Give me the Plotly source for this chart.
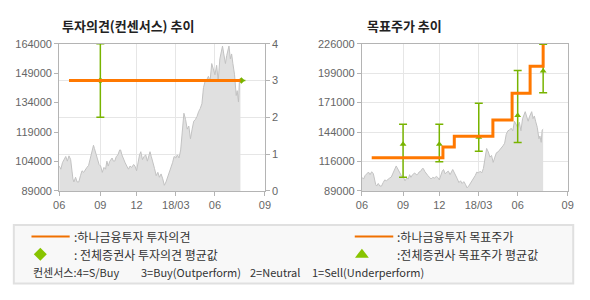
import numpy as np
import plotly.graph_objects as go

# ---------------- data ----------------
# x axis = position on the trading-day timeline of the chart (2017/06 .. 2018/09)
TICK_POS = [0, 42, 79, 119, 159, 210]
TICK_TEXT = ["06", "09", "12", "18/03", "06", "09"]

PRICE_T = [0, 1.7, 3.3, 5, 6.7, 8.3, 10, 11.7, 12.7, 14, 15, 16.7, 18.3, 20, 21.7, 23.3, 25, 26.7,
           28.3, 30, 31.7, 33.3, 35, 36, 37.3, 39.3, 40.7, 42.3, 44, 45.7, 47.3, 48.7, 50, 51.7,
           52.7, 54, 55.3, 56.7, 58.3, 60, 61.7, 62.7, 64, 65.7, 67.3, 69, 70.7, 72.3, 74, 76,
           77.3, 79, 80.7, 82, 83.3, 85, 86.7, 88.3, 90, 91.7, 92.7, 94, 95.7, 97.3, 99, 100.7,
           102.3, 104, 105.7, 107.3, 109, 110.7, 112.3, 114, 115.7, 117.3, 119, 120.7, 122.3, 124,
           125.7, 127.3, 129, 130.7, 132.3, 134, 135.7, 137.3, 139, 140.7, 142.3, 144, 145.7, 147.3,
           149, 150.7, 152.3, 154, 155.7, 157.3, 159, 160.7, 162.3, 164, 165.7, 166.7, 168, 169.7,
           171, 172.3, 173.3, 174.7, 176, 177.3, 179, 180.7, 181.7, 183, 184, 185]
PRICE = [101700, 100100, 103400, 105000, 106600, 104200, 106900, 105000, 100100, 95200, 93600,
         96000, 93600, 93600, 96800, 99300, 98500, 100100, 101000, 102000, 105800, 109000, 112300,
         110600, 108300, 104200, 102500, 101700, 98500, 101000, 100100, 104200, 101700, 104200,
         105000, 105800, 104200, 104200, 106600, 107400, 109900, 109900, 107400, 105000, 103400,
         101700, 100100, 101700, 101000, 102500, 101700, 99300, 104200, 107400, 109000, 105000,
         106600, 107400, 104200, 108300, 109000, 106600, 102500, 100500, 96800, 98500, 96000,
         97700, 95200, 91900, 93600, 96000, 98500, 100900, 103400, 106600, 105800, 107400, 105800,
         109900, 118800, 128600, 125400, 120500, 122100, 115600, 120500, 124500, 125400, 127000,
         129400, 131000, 133500, 141700, 145000, 145700, 147400, 145000, 153900, 151400, 148200,
         153000, 145000, 156300, 161200, 162800, 158800, 153900, 158000, 162000, 162800, 156300,
         158800, 153900, 148200, 137600, 140100, 134300, 145700, 146500]

# investment opinion (Hana) and consensus
OPINION_T = [10, 185]
OPINION = [3, 3]
CONS_OP_T = [42, 186]
CONS_OP = [3, 3]
CONS_OP_HI = [4, 3]
CONS_OP_LO = [2, 3]

# target price (Hana) and consensus
TARGET_T = [10, 82.7, 94.3, 133.7, 153.3, 171.7, 185]
TARGET = [120000, 130000, 140000, 155000, 180000, 205000, 225000]
CONS_TP_T = [42, 79, 119.3, 159, 185]
CONS_TP = [132500, 132500, 139000, 159300, 200700]
CONS_TP_HI = [151000, 151000, 170600, 201000, 225400]
CONS_TP_LO = [101800, 116100, 125900, 134000, 180400]

OP_PRICE_TICKS = [89000, 104000, 119000, 134000, 149000, 164000]
OP_SCORE_TICKS = [0, 1, 2, 3, 4]
TP_TICK_TEXT = ["89000", "116000", "144000", "171000", "199000", "226000"]

TITLE_LEFT = "투자의견(컨센서스) 추이"
TITLE_RIGHT = "목표주가 추이"

# ---------------- style ----------------
W, H = 590, 300
ORANGE = "#ff7800"
GREEN = "#78b400"
GREEN_LEG = "#88c400"
AXIS = "#b4b4b4"
GRID = "#e6e6e6"
TICKF = dict(family="Liberation Sans, Arial, sans-serif", size=11, color="#666666")
KFONT = "Noto Sans CJK KR, sans-serif"


def dx(px):
    return px / W


def dy(py):
    return 1 - py / H


PLOT_TOP, PLOT_BOT = 39.3, 192.7
L_X0, L_X1 = 54.3, 264.3
R_X0, R_X1 = 363.3, 573.3
ydom = [dy(PLOT_BOT), dy(PLOT_TOP)]

fig = go.Figure()

# ---- left chart ----
fig.add_trace(go.Scatter(x=PRICE_T, y=PRICE, xaxis="x", yaxis="y", mode="lines",
                         line=dict(color="#c2c2c2", width=1), fill="tozeroy",
                         fillcolor="#e0e0e0", hoverinfo="skip"))
fig.add_trace(go.Scatter(x=CONS_OP_T, y=CONS_OP, xaxis="x", yaxis="y2", mode="markers",
                         marker=dict(symbol="diamond", size=5, color=GREEN),
                         error_y=dict(type="data", symmetric=False,
                                      array=[h - c for h, c in zip(CONS_OP_HI, CONS_OP)],
                                      arrayminus=[c - l for l, c in zip(CONS_OP_LO, CONS_OP)],
                                      color=GREEN, thickness=1.5, width=4)))
fig.add_trace(go.Scatter(x=OPINION_T, y=OPINION, xaxis="x", yaxis="y2", mode="lines",
                         line=dict(color=ORANGE, width=3)))

# ---- right chart ----
fig.add_trace(go.Scatter(x=PRICE_T, y=PRICE, xaxis="x3", yaxis="y3", mode="lines",
                         line=dict(color="#c2c2c2", width=1), fill="tozeroy",
                         fillcolor="#e0e0e0", hoverinfo="skip"))
fig.add_trace(go.Scatter(x=CONS_TP_T, y=CONS_TP, xaxis="x3", yaxis="y3", mode="markers",
                         marker=dict(symbol="triangle-up", size=6, color=GREEN),
                         error_y=dict(type="data", symmetric=False,
                                      array=[h - c for h, c in zip(CONS_TP_HI, CONS_TP)],
                                      arrayminus=[c - l for l, c in zip(CONS_TP_LO, CONS_TP)],
                                      color=GREEN, thickness=1.5, width=4)))
fig.add_trace(go.Scatter(x=TARGET_T, y=TARGET, xaxis="x3", yaxis="y3", mode="lines",
                         line=dict(color=ORANGE, width=3, shape="hv")))

# ---- legend markers (overlay pixel axis) ----
fig.add_trace(go.Scatter(x=[35], y=[258.5], xaxis="x4", yaxis="y4", mode="markers",
                         marker=dict(symbol="diamond", size=10, color=GREEN_LEG)))
fig.add_trace(go.Scatter(x=[363.3], y=[259], xaxis="x4", yaxis="y4", mode="markers",
                         marker=dict(symbol="triangle-up", size=12, color=GREEN_LEG)))

xcommon = dict(range=[0, 210], tickmode="array", tickvals=TICK_POS, ticktext=TICK_TEXT,
               showgrid=True, gridcolor=GRID, gridwidth=1, zeroline=False,
               showline=True, linecolor=AXIS, linewidth=1, mirror=True,
               ticks="outside", ticklen=4, tickcolor=AXIS, tickfont=TICKF, fixedrange=True)

fig.update_layout(
    width=W, height=H, margin=dict(l=0, r=0, t=0, b=0), autosize=False,
    paper_bgcolor="white", plot_bgcolor="rgba(0,0,0,0)", showlegend=False,
    xaxis=dict(domain=[dx(L_X0), dx(L_X1)], anchor="y", **xcommon),
    yaxis=dict(domain=ydom, anchor="x", range=[89000, 164000], tickmode="array",
               tickvals=OP_PRICE_TICKS, tickformat="d", showgrid=False, zeroline=False,
               showline=True, linecolor=AXIS, linewidth=1,
               ticks="outside", ticklen=4, tickcolor=AXIS, tickfont=TICKF),
    yaxis2=dict(overlaying="y", side="right", anchor="x", range=[0, 4], tickmode="array",
                tickvals=OP_SCORE_TICKS, showgrid=True, gridcolor=GRID, zeroline=False,
                showline=True, linecolor=AXIS, linewidth=1,
                ticks="outside", ticklen=4, tickcolor=AXIS, tickfont=TICKF),
    xaxis3=dict(domain=[dx(R_X0), dx(R_X1)], anchor="y3", **xcommon),
    yaxis3=dict(domain=ydom, anchor="x3", range=[89000, 226000], tickmode="array",
                tickvals=list(np.linspace(89000, 226000, 6)), ticktext=TP_TICK_TEXT,
                showgrid=True, gridcolor=GRID, zeroline=False,
                showline=True, linecolor=AXIS, linewidth=1, mirror=True,
                ticks="outside", ticklen=4, tickcolor=AXIS, tickfont=TICKF),
    xaxis4=dict(domain=[0, 1], range=[0, W], visible=False, anchor="y4", fixedrange=True),
    yaxis4=dict(domain=[0, 1], range=[H, 0], visible=False, anchor="x4", fixedrange=True),
)

shapes = [
    dict(type="rect", xref="x4", yref="y4", x0=8, x1=579, y0=228, y1=289,
         fillcolor="#f8f8f8", line=dict(color="#e0e0e0", width=2), layer="below"),
    dict(type="line", xref="x4", yref="y4", x0=26, x1=65, y0=240, y1=240,
         line=dict(color="#f07000", width=2)),
    dict(type="line", xref="x4", yref="y4", x0=356, x1=395.3, y0=240, y1=240,
         line=dict(color="#f07000", width=2)),
]
fig.update_layout(shapes=shapes)

LF = dict(family=KFONT, size=12, color="#333333")
SF = dict(family=KFONT, size=11, color="#333333")
ann = [
    dict(text="<b>" + TITLE_LEFT + "</b>", x=55, y=20, font=dict(family=KFONT, size=13, color="#222222")),
    dict(text="<b>" + TITLE_RIGHT + "</b>", x=366.5, y=20, font=dict(family=KFONT, size=13, color="#222222")),
    dict(text=":하나금융투자 투자의견", x=67.5, y=240, font=LF),
    dict(text=": 전체증권사 투자의견 평균값", x=67.5, y=258.5, font=LF),
    dict(text=":하나금융투자 목표주가", x=397.5, y=240, font=LF),
    dict(text=":전체증권사 목표주가 평균값", x=397.5, y=258.5, font=LF),
    dict(text="컨센서스:4=S/Buy", x=25.5, y=277, font=SF),
    dict(text="3=Buy(Outperform)", x=136, y=277, font=SF),
    dict(text="2=Neutral", x=247, y=277, font=SF),
    dict(text="1=Sell(Underperform)", x=310.5, y=277, font=SF),
]
for a in ann:
    a.update(xref="x4", yref="y4", xanchor="left", yanchor="middle", showarrow=False)
fig.update_layout(annotations=ann)

fig.write_html("out.html")
